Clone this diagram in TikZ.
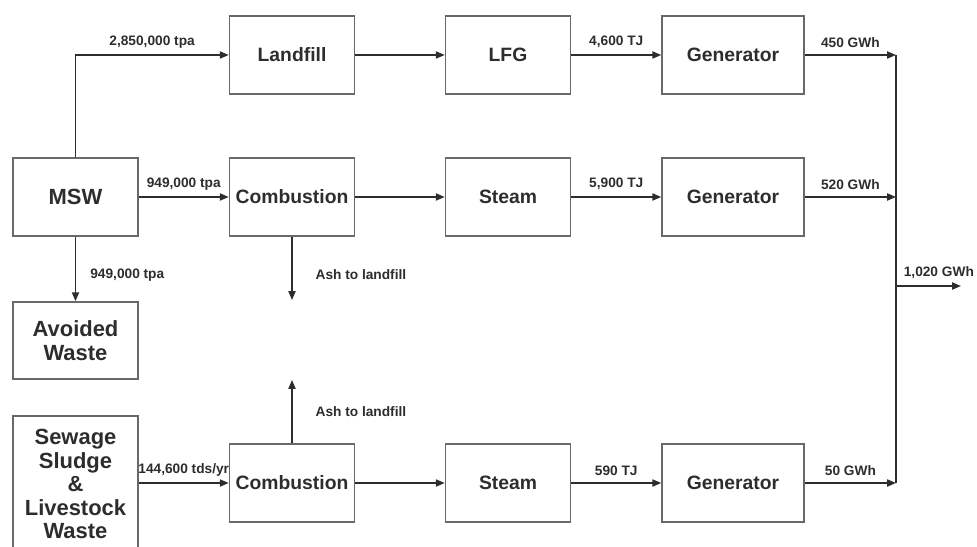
\documentclass[tikz,border=0pt]{standalone}
\usepackage{fontspec}
\setmainfont{Liberation Sans}
\usetikzlibrary{arrows.meta, positioning}
\definecolor{linegray}{RGB}{45, 45, 45}
\definecolor{boxgray}{RGB}{105, 105, 105}

\begin{document}
\begin{tikzpicture}[x=0.02cm, y=-0.02cm,
  box/.style={draw=boxgray, line width=0.9pt, minimum width=2.5cm, minimum height=1.56cm, align=center, font=\fontsize{11}{13}\selectfont\bfseries, text=linegray, inner sep=2pt},
  srcbox/.style={box, font=\fontsize{12.5}{13.4}\selectfont\bfseries},
  genbox/.style={box, minimum width=2.84cm},
  flow/.style={draw=linegray, line width=0.9pt, -{Triangle[length=5pt, width=4pt]}},
  bus/.style={draw=linegray, line width=0.9pt},
  lbl/.style={font=\fontsize{7.8}{9}\selectfont\bfseries, text=linegray, inner sep=2pt, yshift=1.5pt}
]
  \useasboundingbox (0,0) rectangle (977,547);

  % Sources
  \node[srcbox] (msw) at (75.5,197) {MSW};
  \node[srcbox, minimum height=1.54cm] (avoided) at (75.5,340.5) {Avoided\\Waste};
  \node[srcbox, minimum height=2.72cm] (sludge) at (75.5,484) {Sewage\\Sludge\\\&\\Livestock\\Waste};

  % Landfill row
  \node[box] (landfill) at (292,55) {Landfill};
  \node[box] (lfg) at (508,55) {LFG};
  \node[genbox] (genT) at (733,55) {Generator};

  % MSW combustion row
  \node[box] (combA) at (292,197) {Combustion};
  \node[box] (steamA) at (508,197) {Steam};
  \node[genbox] (genM) at (733,197) {Generator};

  % Sludge combustion row
  \node[box] (combB) at (292,483) {Combustion};
  \node[box] (steamB) at (508,483) {Steam};
  \node[genbox] (genB) at (733,483) {Generator};

  % Free ends
  \coordinate (ashA) at (292,300);
  \coordinate (ashB) at (292,380);
  \coordinate (busT) at (896,55);
  \coordinate (busM) at (896,197);
  \coordinate (busO) at (896,286);
  \coordinate (busB) at (896,483);
  \coordinate (out) at (961,286);

  % Flows
  \draw[flow] (msw.north) |- node[lbl, above, pos=0.75] {2,850,000 tpa} (landfill);
  \draw[flow] (msw) -- node[lbl, above] {949,000 tpa} (combA);
  \draw[flow] (msw) -- node[lbl, right, xshift=6pt, yshift=-5pt] {949,000 tpa} (avoided);
  \draw[flow] (sludge.east |- combB) -- node[lbl, above] {144,600 tds/yr} (combB);

  \draw[flow] (landfill) -- (lfg);
  \draw[flow] (lfg) -- node[lbl, above] {4,600 TJ} (genT);
  \draw[flow] (genT) -- node[lbl, above] {450 GWh} (busT);

  \draw[flow] (combA) -- (steamA);
  \draw[flow] (steamA) -- node[lbl, above] {5,900 TJ} (genM);
  \draw[flow] (genM) -- node[lbl, above] {520 GWh} (busM);
  \draw[flow] (combA) -- node[lbl, right, xshift=11pt, yshift=-5pt] {Ash to landfill} (ashA);

  \draw[flow] (combB) -- (steamB);
  \draw[flow] (steamB) -- node[lbl, above] {590 TJ} (genB);
  \draw[flow] (genB) -- node[lbl, above] {50 GWh} (busB);
  \draw[flow] (combB) -- node[lbl, right, xshift=11pt, yshift=-1.5pt] {Ash to landfill} (ashB);

  % Output bus
  \draw[bus] (busT) -- (busB);
  \draw[flow] (busO) -- node[lbl, above right, pos=0, xshift=2pt] {1,020 GWh} (out);
\end{tikzpicture}
\end{document}
